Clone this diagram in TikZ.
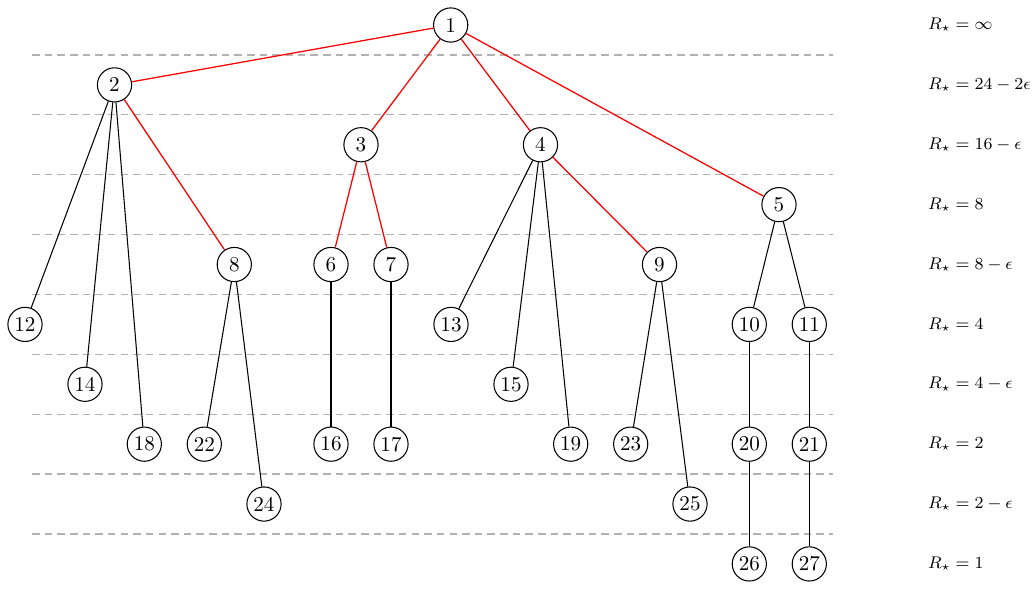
\documentclass[tikz,border=0pt]{standalone}
\usepackage{amsmath}
\begin{document}
\begin{tikzpicture}[
    vertex/.style={circle,draw,minimum size=0.57cm,inner sep=0pt,line width=0.5pt},
    level/.style={gray!60,line width=0.6pt,dash pattern=on 3.6pt off 2.4pt},
    heavy/.style={red,line width=0.6pt},
    light/.style={line width=0.5pt}]
    \useasboundingbox (0,0) rectangle (17.25,9.867);
    %% vertices: name/x/row
    \foreach \n/\x/\r in {1/450.7/0, 2/114.5/1, 3/361/2, 4/540.5/2, 5/779/3,
        8/234.3/4, 6/331/4, 7/391/4, 9/659.5/4,
        12/25/5, 13/451/5, 10/749.3/5, 11/809.3/5,
        14/85/6, 15/511/6,
        18/144.3/7, 22/204.3/7, 16/331/7, 17/391/7, 19/570.7/7, 23/630.7/7, 20/749.3/7, 21/809.3/7,
        24/264/8, 25/690/8,
        26/749.3/9, 27/809.3/9}
        \node[vertex] (v\n) at ({\x/60},{9.45-0.998*\r}) {\n};
    %% levels
    \foreach \r in {0,...,8}
        \draw[level] (0.533,{9.45-0.998*(\r+0.5)}) -- (13.88,{9.45-0.998*(\r+0.5)});
    %% labels
    \foreach \t [count=\r from 0] in {\infty,24-2\epsilon,16-\epsilon,8,8-\epsilon,4,4-\epsilon,2,2-\epsilon,1}
        \node[anchor=west,inner sep=0pt,font=\fontsize{8.4}{10}\selectfont] (lab\r) at (15.46,{9.45-0.998*\r}) {$R_\star=\t$};
    %% tree edges
    \foreach \a/\b in {1/2,1/3,1/4,1/5,2/8,3/6,3/7,4/9}
        \draw[heavy] (v\a) -- (v\b);
    \foreach \a/\b in {2/12,2/14,2/18,8/22,8/24,6/16,7/17,4/13,4/15,4/19,
        9/23,9/25,5/10,5/11,10/20,11/21,20/26,21/27}
        \draw[light] (v\a) -- (v\b);
\end{tikzpicture}
\end{document}
